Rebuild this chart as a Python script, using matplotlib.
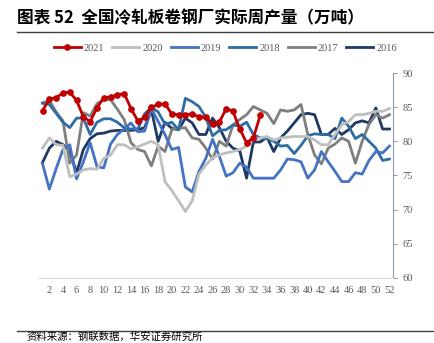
import numpy as np
import matplotlib
matplotlib.use("Agg")
import matplotlib.pyplot as plt
from matplotlib.lines import Line2D

plt.rcParams['font.family'] = ['Noto Sans CJK SC', 'DejaVu Sans']

# 周次
weeks = np.arange(1, 53)

# 各年度周产量（万吨）
v2021 = [84.5, 86.2, 86.4, 87.1, 87.2, 86.0, 83.6, 82.9, 84.9, 86.4, 86.5, 86.8, 87.0,
         84.8, 83.0, 83.5, 85.0, 85.4, 85.5, 84.0, 83.9, 83.9, 84.0, 83.6, 83.5, 82.6,
         82.8, 84.8, 84.4, 81.8, 79.8, 80.5, 83.8]
v2020 = [79.0, 80.5, 79.5, 79.4, 74.8, 75.2, 75.8, 76.0, 75.9, 77.5, 78.0, 79.5, 79.5,
         78.9, 79.2, 79.6, 80.0, 79.5, 74.1, 72.8, 71.3, 69.7, 71.3, 75.2, 76.5, 77.6,
         78.0, 78.3, 78.5, 78.8, 79.3, 80.2, 80.5, 80.7, 80.2, 80.5, 80.6, 80.7, 80.7,
         80.7, 80.2, 79.5, 79.5, 81.0, 82.4, 82.9, 83.9, 83.9, 84.1, 84.4, 84.4, 84.8]
v2019 = [76.7, 73.0, 76.0, 78.8, 79.5, 74.5, 77.0, 79.8, 76.3, 76.1, 79.6, 81.0, 81.8,
         82.7, 81.4, 81.5, 84.8, 82.9, 81.0, 78.8, 79.1, 73.3, 72.6, 75.6, 77.5, 80.3,
         77.8, 74.9, 75.4, 76.8, 76.2, 74.6, 74.6, 74.6, 74.6, 75.8, 77.4, 77.3, 77.0,
         74.6, 75.8, 78.5, 77.0, 75.6, 74.1, 74.1, 75.4, 75.2, 77.2, 78.5, 78.3, 79.3]
v2018 = [85.6, 85.4, 84.1, 82.8, 82.0, 83.4, 83.4, 81.0, 82.8, 83.3, 83.3, 82.8, 82.0,
         81.8, 81.8, 84.0, 85.0, 84.3, 82.5, 82.8, 81.7, 86.3, 85.8, 85.1, 83.5, 80.8,
         81.6, 81.7, 82.4, 82.2, 82.8, 81.0, 80.5, 80.4, 80.0, 79.3, 79.4, 78.2, 79.4,
         80.8, 81.1, 81.0, 81.0, 80.4, 83.4, 82.2, 80.4, 81.0, 80.0, 79.0, 77.2, 77.4]
v2017 = [85.6, 86.0, 84.3, 83.0, 76.8, 78.0, 84.2, 83.7, 85.5, 86.1, 86.1, 84.7, 83.2,
         79.8, 78.8, 78.5, 76.4, 79.3, 78.5, 81.7, 81.9, 82.0, 80.5, 80.3, 79.0, 77.4,
         80.0, 79.3, 82.4, 83.2, 83.9, 85.1, 84.6, 84.1, 82.6, 84.6, 84.4, 84.6, 85.4,
         81.0, 78.0, 76.7, 79.0, 79.6, 80.5, 80.0, 76.8, 80.0, 82.5, 83.9, 83.4, 83.9]
v2016 = [76.9, 79.0, 80.0, 79.5, 78.6, 75.4, 78.8, 80.4, 81.1, 81.2, 81.5, 81.6, 81.6,
         81.6, 81.7, 82.0, 84.6, 80.0, 82.8, 81.9, 81.7, 83.4, 82.7, 81.0, 81.0, 83.4,
         82.0, 80.0, 79.0, 78.6, 74.6, 79.9, 79.9, 80.6, 78.5, 80.5, 81.5, 82.7, 83.9,
         84.1, 83.9, 81.0, 81.0, 81.9, 81.0, 81.7, 82.7, 83.0, 82.7, 84.9, 81.8, 81.8]

fig = plt.figure(figsize=(4.35, 3.43), dpi=100)
ax = fig.add_axes([0.09, 0.19, 0.813, 0.597])

lw = 2.0
ax.plot(weeks, v2016, color='#203864', lw=lw, label='2016')
ax.plot(weeks, v2017, color='#7F7F7F', lw=lw, label='2017')
ax.plot(weeks, v2018, color='#2E6DA4', lw=lw, label='2018')
ax.plot(weeks, v2019, color='#4472C4', lw=lw, label='2019')
ax.plot(weeks, v2020, color='#BFBFBF', lw=lw, label='2020')
ax.plot(weeks[:len(v2021)], v2021, color='#C00000', lw=lw, marker='o', ms=3.8, label='2021')

ax.set_xlim(0.5, 52.5)
ax.set_ylim(60, 90)
ax.set_xticks(np.arange(2, 53, 2))
ax.set_yticks(np.arange(60, 91, 5))
ax.yaxis.tick_right()
for s in ['top', 'left']:
    ax.spines[s].set_visible(False)
ax.spines['right'].set_color('#8C9BB0')
ax.spines['bottom'].set_color('#D9D9D9')
ax.tick_params(axis='x', length=0, pad=6, labelsize=7.5, labelcolor='#595959')
ax.tick_params(axis='y', length=3, color='#8C9BB0', pad=4, labelsize=7.5, labelcolor='#595959')
for t in ax.get_xticklabels() + ax.get_yticklabels():
    t.set_family('Liberation Serif')

# 图例顺序
order = ['2021', '2020', '2019', '2018', '2017', '2016']
hl = dict(zip([l.get_label() for l in ax.get_lines()], ax.get_lines()))
leg = fig.legend([hl[k] for k in order], order, loc='center', bbox_to_anchor=(0.518, 0.86),
                 ncol=6, frameon=False, handlelength=2.6, columnspacing=0.75, handletextpad=0.3,
                 prop={'family': 'Liberation Serif', 'size': 7.5})
for t in leg.get_texts():
    t.set_color('#595959')

# 标题与来源
fig.text(0.04, 0.947, '图表 52  全国冷轧板卷钢厂实际周产量（万吨）', fontsize=12,
         fontweight='bold', va='center', ha='left', color='black')
fig.add_artist(Line2D([0.04, 1.0], [0.907, 0.907], color='#404040', lw=1.0))
fig.add_artist(Line2D([0.04, 1.0], [0.035, 0.035], color='#404040', lw=1.0))
fig.text(0.06, 0.003, '资料来源：钢联数据，华安证券研究所', fontsize=7.5, va='bottom', ha='left',
         color='black')

fig.savefig('out.png', dpi=100)
